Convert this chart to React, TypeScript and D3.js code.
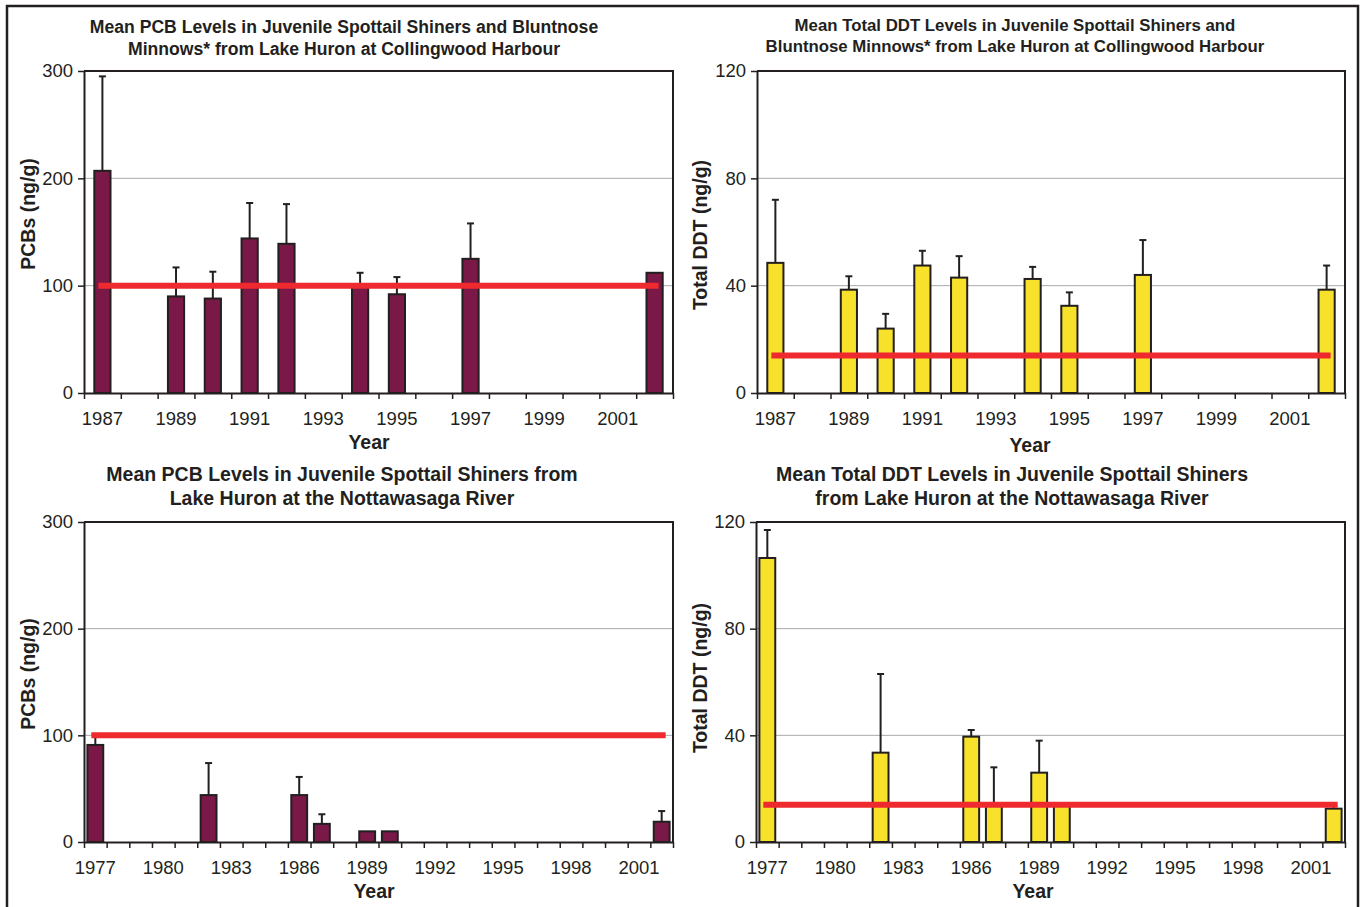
import { useEffect, useRef } from "react";
import { select, scaleBand, scaleLinear, axisLeft, axisBottom } from "d3";

// --- data ---
const YEARS_COLL = [1987, 1988, 1989, 1990, 1991, 1992, 1993, 1994, 1995, 1996, 1997, 1998, 1999, 2000, 2001, 2002];
const YEAR_LABELS_COLL = [1987, 1989, 1991, 1993, 1995, 1997, 1999, 2001];
const PCB_COLL = [207, null, 90, 88, 144, 139, null, 101, 92, null, 125, null, null, null, null, 112];
const PCB_COLL_ERR = [295, null, 117, 113, 177, 176, null, 112, 108, null, 158, null, null, null, null, null];
const DDT_COLL = [48.5, null, 38.5, 24, 47.5, 43, null, 42.5, 32.5, null, 44, null, null, null, null, 38.5];
const DDT_COLL_ERR = [72, null, 43.5, 29.5, 53, 51, null, 47, 37.5, null, 57, null, null, null, null, 47.5];

const YEARS_NOTT = [1977, 1978, 1979, 1980, 1981, 1982, 1983, 1984, 1985, 1986, 1987, 1988, 1989, 1990, 1991, 1992, 1993, 1994, 1995, 1996, 1997, 1998, 1999, 2000, 2001, 2002];
const YEAR_LABELS_NOTT = [1977, 1980, 1983, 1986, 1989, 1992, 1995, 1998, 2001];
const PCB_NOTT = [91, null, null, null, null, 44, null, null, null, 44, 17, null, 10, 10, null, null, null, null, null, null, null, null, null, null, null, 19];
const PCB_NOTT_ERR = [101, null, null, null, null, 74, null, null, null, 61, 26, null, null, null, null, null, null, null, null, null, null, null, null, null, null, 29];
const DDT_NOTT = [106.5, null, null, null, null, 33.5, null, null, null, 39.5, 14.5, null, 26, 14.5, null, null, null, null, null, null, null, null, null, null, null, 12.5];
const DDT_NOTT_ERR = [117, null, null, null, null, 63, null, null, null, 42, 28, null, 38, null, null, null, null, null, null, null, null, null, null, null, null, 13.5];

const PCB_TICKS = [0, 100, 200, 300];
const DDT_TICKS = [0, 40, 80, 120];
const PCB_GUIDELINE = 100;
const DDT_GUIDELINE = 14;

const FONT = "'Liberation Sans', Arial, Helvetica, sans-serif";
const INK = "#231f20";
const MAROON = "#7a1848";
const YELLOW = "#f7e12b";
const RED = "#ee2a2f";

interface PanelProps {
  title: string[];
  titleX: number;
  titleY: number[];
  titleSize: number;
  yLabel: string;
  yLabelX: number;
  yLabelY: number;
  xLabelX: number;
  xLabelY: number;
  left: number;
  right: number;
  top: number;
  bottom: number;
  years: number[];
  yearLabels: number[];
  values: (number | null)[];
  errors: (number | null)[];
  ticks: number[];
  guideline: number;
  color: string;
  barFrac: number;
}

function Panel(p: PanelProps) {
  const ref = useRef<SVGGElement>(null);

  useEffect(() => {
    const g = select(ref.current);
    g.selectAll("*").remove();

    const yMax = p.ticks[p.ticks.length - 1];
    const x = scaleBand<number>().domain(p.years).range([p.left, p.right]).padding(0);
    const xEdge = scaleLinear().domain([0, p.years.length]).range([p.left, p.right]);
    const y = scaleLinear().domain([0, yMax]).range([p.bottom, p.top]);
    const bw = x.bandwidth() * p.barFrac;

    // --- title ---
    p.title.forEach((t, i) => {
      g.append("text")
        .attr("x", p.titleX)
        .attr("y", p.titleY[i])
        .attr("text-anchor", "middle")
        .attr("font-family", FONT)
        .attr("font-weight", "bold")
        .attr("font-size", p.titleSize)
        .attr("fill", INK)
        .text(t);
    });

    // --- gridlines ---
    g.append("g")
      .selectAll("line")
      .data(p.ticks.filter((d) => d > 0 && d < yMax))
      .join("line")
      .attr("x1", p.left)
      .attr("x2", p.right)
      .attr("y1", (d) => y(d))
      .attr("y2", (d) => y(d))
      .attr("stroke", "#a7a9ac")
      .attr("stroke-width", 1);

    // --- bars ---
    const idx = p.years.map((_, i) => i).filter((i) => p.values[i] != null);
    g.append("g")
      .selectAll("rect")
      .data(idx)
      .join("rect")
      .attr("x", (i) => (x(p.years[i]) ?? 0) + (x.bandwidth() - bw) / 2)
      .attr("width", bw)
      .attr("y", (i) => y(p.values[i] as number))
      .attr("height", (i) => p.bottom - y(p.values[i] as number))
      .attr("fill", p.color)
      .attr("stroke", INK)
      .attr("stroke-width", 2);

    // --- error bars ---
    const eidx = idx.filter((i) => p.errors[i] != null);
    const eg = g.append("g").attr("stroke", INK).attr("stroke-width", 2);
    eidx.forEach((i) => {
      const cx = (x(p.years[i]) ?? 0) + x.bandwidth() / 2;
      eg.append("line")
        .attr("x1", cx)
        .attr("x2", cx)
        .attr("y1", y(p.values[i] as number))
        .attr("y2", y(p.errors[i] as number));
      eg.append("line")
        .attr("x1", cx - 3.5)
        .attr("x2", cx + 3.5)
        .attr("y1", y(p.errors[i] as number))
        .attr("y2", y(p.errors[i] as number));
    });

    // --- guideline ---
    const first = (x(p.years[0]) ?? 0) + x.bandwidth() / 2;
    const last = (x(p.years[p.years.length - 1]) ?? 0) + x.bandwidth() / 2;
    g.append("line")
      .attr("x1", first - 4)
      .attr("x2", last + 4)
      .attr("y1", y(p.guideline))
      .attr("y2", y(p.guideline))
      .attr("stroke", RED)
      .attr("stroke-width", 6);

    // --- frame (top, right) ---
    g.append("path")
      .attr("d", `M${p.left},${p.top}H${p.right}V${p.bottom}`)
      .attr("fill", "none")
      .attr("stroke", INK)
      .attr("stroke-width", 2);

    // --- y axis ---
    g.append("g")
      .attr("transform", `translate(${p.left},0)`)
      .call(axisLeft(y).tickValues(p.ticks).tickSize(6).tickPadding(5).tickSizeOuter(0))
      .call((sel) => sel.select(".domain").attr("stroke", INK).attr("stroke-width", 2))
      .call((sel) => sel.selectAll(".tick line").attr("stroke", INK).attr("stroke-width", 1.5))
      .call((sel) =>
        sel
          .selectAll(".tick text")
          .attr("fill", INK)
          .attr("font-family", FONT)
          .attr("font-size", 18.5),
      );

    // --- x axis: ticks at category edges ---
    g.append("g")
      .attr("transform", `translate(0,${p.bottom})`)
      .call(
        axisBottom(xEdge)
          .tickValues(p.years.map((_, i) => i).concat([p.years.length]))
          .tickSize(6)
          .tickSizeOuter(0)
          .tickFormat(() => ""),
      )
      .call((sel) => sel.select(".domain").attr("stroke", INK).attr("stroke-width", 2))
      .call((sel) => sel.selectAll(".tick line").attr("stroke", INK).attr("stroke-width", 1.5));

    // --- x labels at category centres ---
    g.append("g")
      .attr("transform", `translate(0,${p.bottom})`)
      .call(axisBottom(x).tickValues(p.yearLabels).tickSize(0).tickPadding(19).tickSizeOuter(0))
      .call((sel) => sel.select(".domain").remove())
      .call((sel) =>
        sel
          .selectAll(".tick text")
          .attr("fill", INK)
          .attr("font-family", FONT)
          .attr("font-size", 18.5),
      );

    // --- axis titles ---
    g.append("text")
      .attr("x", p.xLabelX)
      .attr("y", p.xLabelY)
      .attr("text-anchor", "middle")
      .attr("font-family", FONT)
      .attr("font-weight", "bold")
      .attr("font-size", 19.5)
      .attr("fill", INK)
      .text("Year");

    g.append("text")
      .attr("transform", `translate(${p.yLabelX},${p.yLabelY}) rotate(-90)`)
      .attr("text-anchor", "middle")
      .attr("font-family", FONT)
      .attr("font-weight", "bold")
      .attr("font-size", 19.5)
      .attr("fill", INK)
      .text(p.yLabel);
  }, [p]);

  return <g ref={ref} />;
}

export default function App() {
  return (
    <div style={{ position: "absolute", left: 0, top: 0, width: 1360, height: 907, background: "#fff" }}>
      <svg width={1360} height={907}>
        <rect x={7} y={6} width={1351} height={910} fill="none" stroke={INK} strokeWidth={2.5} />
        <Panel
          title={["Mean PCB Levels in Juvenile Spottail Shiners and Bluntnose", "Minnows* from Lake Huron at Collingwood Harbour"]}
          titleX={344}
          titleY={[33, 55]}
          titleSize={17.6}
          yLabel="PCBs (ng/g)"
          yLabelX={35}
          yLabelY={214}
          xLabelX={369}
          xLabelY={449}
          left={84}
          right={673}
          top={71}
          bottom={393}
          years={YEARS_COLL}
          yearLabels={YEAR_LABELS_COLL}
          values={PCB_COLL}
          errors={PCB_COLL_ERR}
          ticks={PCB_TICKS}
          guideline={PCB_GUIDELINE}
          color={MAROON}
          barFrac={0.44}
        />
        <Panel
          title={["Mean Total DDT Levels in Juvenile Spottail Shiners and", "Bluntnose Minnows* from Lake Huron at Collingwood Harbour"]}
          titleX={1015}
          titleY={[31, 52]}
          titleSize={16.8}
          yLabel="Total DDT (ng/g)"
          yLabelX={707}
          yLabelY={235}
          xLabelX={1030}
          xLabelY={452}
          left={757}
          right={1345}
          top={71}
          bottom={393}
          years={YEARS_COLL}
          yearLabels={YEAR_LABELS_COLL}
          values={DDT_COLL}
          errors={DDT_COLL_ERR}
          ticks={DDT_TICKS}
          guideline={DDT_GUIDELINE}
          color={YELLOW}
          barFrac={0.44}
        />
        <Panel
          title={["Mean PCB Levels in Juvenile Spottail Shiners from", "Lake Huron at the Nottawasaga River"]}
          titleX={342}
          titleY={[481, 505]}
          titleSize={19.5}
          yLabel="PCBs (ng/g)"
          yLabelX={35}
          yLabelY={674}
          xLabelX={374}
          xLabelY={898}
          left={84}
          right={673}
          top={522}
          bottom={842}
          years={YEARS_NOTT}
          yearLabels={YEAR_LABELS_NOTT}
          values={PCB_NOTT}
          errors={PCB_NOTT_ERR}
          ticks={PCB_TICKS}
          guideline={PCB_GUIDELINE}
          color={MAROON}
          barFrac={0.7}
        />
        <Panel
          title={["Mean Total DDT Levels in Juvenile Spottail Shiners", "from Lake Huron at the Nottawasaga River"]}
          titleX={1012}
          titleY={[481, 505]}
          titleSize={19.5}
          yLabel="Total DDT (ng/g)"
          yLabelX={707}
          yLabelY={678}
          xLabelX={1033}
          xLabelY={898}
          left={756}
          right={1345}
          top={522}
          bottom={842}
          years={YEARS_NOTT}
          yearLabels={YEAR_LABELS_NOTT}
          values={DDT_NOTT}
          errors={DDT_NOTT_ERR}
          ticks={DDT_TICKS}
          guideline={DDT_GUIDELINE}
          color={YELLOW}
          barFrac={0.7}
        />
      </svg>
    </div>
  );
}
